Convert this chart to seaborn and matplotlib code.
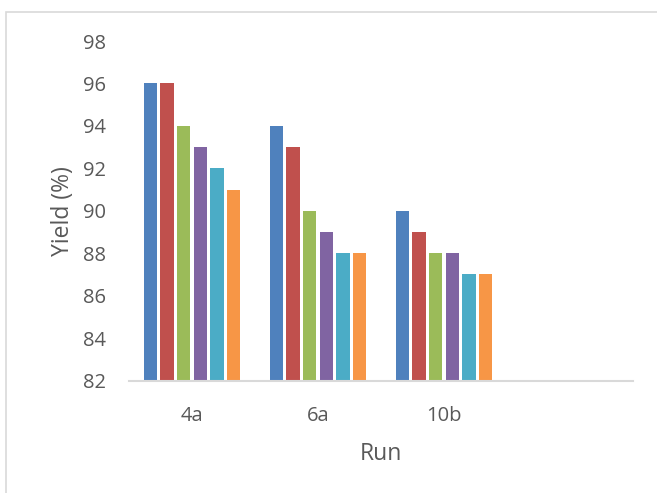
import matplotlib
matplotlib.use("Agg")
import matplotlib.pyplot as plt
from matplotlib.patches import Rectangle
import seaborn as sns
import pandas as pd

# Yield per run for six consecutive series
runs = ["4a", "6a", "10b"]
series = ["Series 1", "Series 2", "Series 3", "Series 4", "Series 5", "Series 6"]
yield_4a = [96, 96, 94, 93, 92, 91]
yield_6a = [94, 93, 90, 89, 88, 88]
yield_10b = [90, 89, 88, 88, 87, 87]
y_ticks = [82, 84, 86, 88, 90, 92, 94, 96, 98]

colors = ["#4F81BD", "#C0504D", "#9BBB59", "#8064A2", "#4BACC6", "#F79646"]

rows = []
for run, vals in zip(runs, [yield_4a, yield_6a, yield_10b]):
    for s, v in zip(series, vals):
        rows.append({"Run": run, "Series": s, "Yield": v})
df = pd.DataFrame(rows)

sns.set_theme(style="white")
plt.rcParams["font.family"] = ["Open Sans", "DejaVu Sans"]
text_color = "#595959"

fig = plt.figure(figsize=(6.57, 4.93), dpi=100)
ax = fig.add_axes([129 / 657, 1 - 380.6 / 493, 504 / 657, (380.6 - 41) / 493])

# an extra empty slot on the right keeps the category spacing
order = runs + [" "]
sns.barplot(data=df, x="Run", y="Yield", hue="Series", order=order,
            hue_order=series, palette=colors, width=0.795, gap=0.2,
            legend=False, ax=ax, linewidth=0, saturation=1, err_kws={"linewidth": 0})

ax.set_ylim(82, 98)
ax.set_xlim(-0.5, 3.5)
ax.set_yticks(y_ticks)
ax.set_yticklabels([str(t) for t in y_ticks])
ax.set_xticks([0, 1, 2])
ax.set_xticklabels(runs)
ax.tick_params(axis="both", length=0, labelsize=14.5, colors=text_color)
ax.tick_params(axis="y", pad=16.5)
ax.tick_params(axis="x", pad=18)

for side in ["top", "right", "left"]:
    ax.spines[side].set_visible(False)
ax.spines["bottom"].set_color("#D9D9D9")
ax.spines["bottom"].set_linewidth(1.5)
ax.grid(False)

ax.set_xlabel("Run", fontsize=16.5, color=text_color, labelpad=12)
ax.set_ylabel("Yield (%)", fontsize=16.5, color=text_color, labelpad=6)

# chart area border
fig.patches.append(Rectangle((6 / 657, -0.1), 1.2, 1 - 12 / 493 + 0.1,
                             transform=fig.transFigure, fill=False,
                             edgecolor="#D9D9D9", linewidth=1.2))

fig.savefig("out.png", dpi=100, facecolor="white")
